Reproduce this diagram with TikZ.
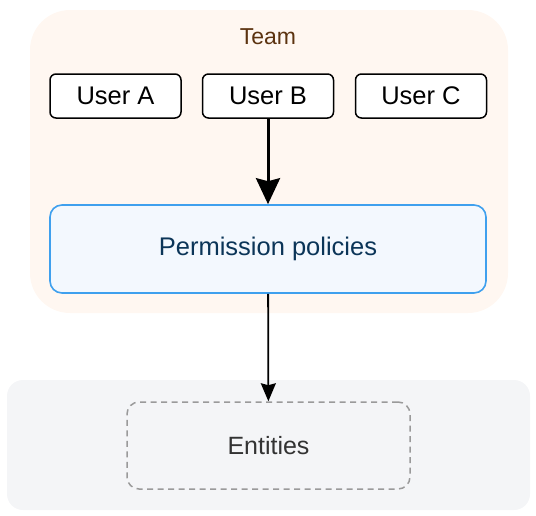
\documentclass[tikz,border=0pt]{standalone}
\usepackage{fontspec}
\setmainfont{Liberation Sans}
\usetikzlibrary{arrows.meta}
\definecolor{teamfill}{HTML}{FFF7F1}
\definecolor{teamtext}{HTML}{5C3310}
\definecolor{polborder}{HTML}{3FA0EE}
\definecolor{polfill}{HTML}{F3F8FE}
\definecolor{poltext}{HTML}{0B3558}
\definecolor{entfill}{HTML}{F4F5F7}
\definecolor{entdash}{HTML}{9A9A9A}
\definecolor{enttext}{HTML}{333333}
\tikzset{
  container/.style={rectangle, inner sep=0pt, draw=none},
  userbox/.style={rectangle, draw=black, fill=white, line width=1.5pt, rounded corners=6pt,
    minimum width=131pt, minimum height=44pt, inner sep=0pt, font=\fontsize{25.5}{30}\selectfont},
  policybox/.style={rectangle, draw=polborder, fill=polfill, line width=1.6pt, rounded corners=12pt,
    minimum width=436pt, minimum height=88pt, inner sep=0pt, text=poltext, font=\fontsize{25.5}{30}\selectfont},
  entitybox/.style={rectangle, draw=entdash, line width=1.5pt, dash pattern=on 6pt off 4.5pt, rounded corners=12pt,
    minimum width=283pt, minimum height=87pt, inner sep=0pt, text=enttext, font=\fontsize{25}{30}\selectfont},
  thickarrow/.style={line width=3pt, -{Stealth[length=26pt, width=24pt, inset=3pt]}},
  thinarrow/.style={line width=1.8pt, -{Stealth[length=18pt, width=15pt, inset=2pt]}}
}
\begin{document}
\begin{tikzpicture}[x=1pt, y=-1pt]
\useasboundingbox (0,0) rectangle (536,515);
% containers
\node[container, fill=teamfill, rounded corners=40pt, minimum width=478pt, minimum height=303pt] (team) at (269,161.5) {};
\node[container, fill=entfill, rounded corners=16pt, minimum width=523pt, minimum height=130pt] (entgroup) at (268.5,445) {};
\node[text=teamtext, font=\fontsize{23}{27}\selectfont] (teamlabel) at (268,37) {Team};
% users
\node[userbox] (ua) at (115.5,96) {User A};
\node[userbox] (ub) at (268,96) {User B};
\node[userbox] (uc) at (421,96) {User C};
% policies
\node[policybox] (pol) at (268,249) {Permission policies};
% entities
\node[entitybox] (ent) at (268.5,445.5) {Entities};
% arrows
\draw[thickarrow] (ub) -- (pol);
\draw[thinarrow] (pol) -- (ent);
\end{tikzpicture}
\end{document}
